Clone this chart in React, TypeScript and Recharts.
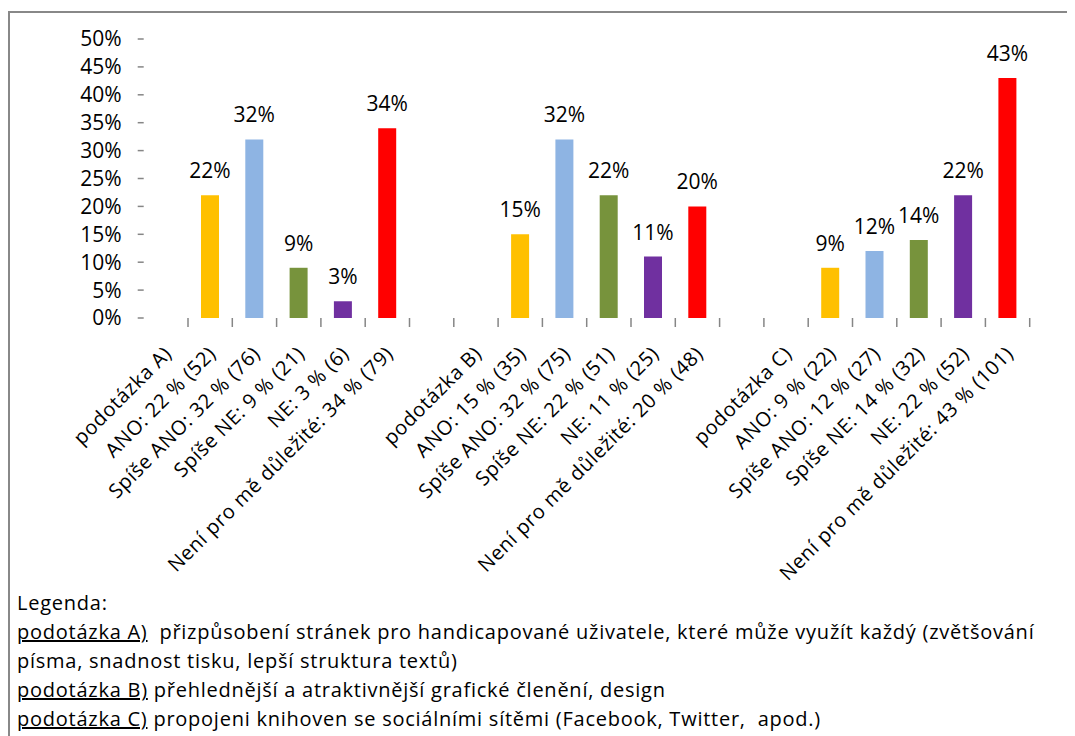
import React from "react";
import { BarChart, Bar, XAxis, YAxis, Cell, LabelList } from "recharts";

const categories = [
  "podotázka A)",
  "ANO: 22 % (52)",
  "Spíše ANO: 32 % (76)",
  "Spíše NE: 9 % (21)",
  "NE: 3 % (6)",
  "Není pro mě důležité: 34 % (79)",
  "",
  "podotázka B)",
  "ANO: 15 % (35)",
  "Spíše ANO: 32 % (75)",
  "Spíše NE: 22 % (51)",
  "NE: 11 % (25)",
  "Není pro mě důležité: 20 % (48)",
  "",
  "podotázka C)",
  "ANO: 9 % (22)",
  "Spíše ANO: 12 % (27)",
  "Spíše NE: 14 % (32)",
  "NE: 22 % (52)",
  "Není pro mě důležité: 43 % (101)",
];

const values = [
  null, 22, 32, 9, 3, 34, null,
  null, 15, 32, 22, 11, 20, null,
  null, 9, 12, 14, 22, 43,
];

// ANO, Spíše ANO, Spíše NE, NE, Není pro mě důležité
const answerColors = ["#FFC000", "#8EB4E3", "#77933C", "#7030A0", "#FF0000"];

const yTicks = [0, 5, 10, 15, 20, 25, 30, 35, 40, 45, 50];

const legendLines = [
  { key: "podotázka A)", text: "  přizpůsobení stránek pro handicapované uživatele, které může využít každý (zvětšování" },
  { key: "", text: "písma, snadnost tisku, lepší struktura textů)" },
  { key: "podotázka B)", text: " přehlednější a atraktivnější grafické členění, design" },
  { key: "podotázka C)", text: " propojeni knihoven se sociálními sítěmi (Facebook, Twitter,  apod.)" },
];

const data = categories.map((name, i) => ({ name, value: values[i] }));

const FONT = "'Open Sans', 'Liberation Sans', sans-serif";
const CHART_W = 1060;
const MARGIN = { top: 31, right: 38.3, left: 0, bottom: 0 };
const Y_AXIS_W = 135.7;
const SLOT = (CHART_W - MARGIN.right - Y_AXIS_W) / categories.length;
const TICK_GREY = "#868686";

function CategoryTick(props: any) {
  const { x, y, payload } = props;
  const tx = x + 7;
  const ty = y + 37;
  return (
    <g>
      <line
        x1={x + SLOT / 2}
        x2={x + SLOT / 2}
        y1={y}
        y2={y + 9}
        stroke={TICK_GREY}
        strokeWidth={1.5}
      />
      <text
        x={tx}
        y={ty}
        transform={`rotate(-45, ${tx}, ${ty})`}
        textAnchor="end"
        fill="#000"
        fontSize={20}
        letterSpacing={0.6}
        fontFamily={FONT}
      >
        {payload.value}
      </text>
    </g>
  );
}

export default function App() {
  return (
    <div style={{ position: "relative", width: 1067, height: 728, fontFamily: FONT }}>
      <div
        style={{
          position: "absolute",
          left: 0,
          top: 3,
          width: 1067,
          height: 725,
          borderTop: "2px solid #888",
          borderLeft: "2px solid #888",
          boxSizing: "border-box",
        }}
      />
      <div style={{ position: "absolute", left: 0, top: 0 }}>
        <BarChart width={CHART_W} height={600} data={data} margin={MARGIN}>
          <YAxis
            width={Y_AXIS_W}
            domain={[0, 50]}
            ticks={yTicks}
            interval={0}
            tickFormatter={(v: number) => `${v}%`}
            tick={{ fill: "#000", fontSize: 21, fontFamily: FONT }}
            tickSize={6}
            tickMargin={16}
            tickLine={{ stroke: TICK_GREY, strokeWidth: 1.5 }}
            axisLine={false}
          />
          <XAxis
            dataKey="name"
            interval={0}
            height={290}
            tickSize={0}
            tickMargin={0}
            tickLine={false}
            axisLine={false}
            tick={<CategoryTick />}
          />
          <Bar dataKey="value" barSize={18} isAnimationActive={false}>
            {data.map((d, i) => (
              <Cell key={i} fill={answerColors[((i % 7) + 4) % 5]} />
            ))}
            <LabelList
              dataKey="value"
              position="top"
              offset={17}
              fill="#000"
              fontSize={21}
              fontFamily={FONT}
              formatter={(v: any) => (v == null ? "" : `${v}%`)}
            />
          </Bar>
        </BarChart>
      </div>
      <div
        style={{
          position: "absolute",
          left: 9,
          top: 580,
          fontSize: 20,
          letterSpacing: "0.75px",
          lineHeight: "29px",
          color: "#000",
          whiteSpace: "pre",
        }}
      >
        <div>Legenda:</div>
        {legendLines.map((l, i) => (
          <div key={i}>
            {l.key && <span style={{ textDecoration: "underline" }}>{l.key}</span>}
            {l.text}
          </div>
        ))}
      </div>
    </div>
  );
}
